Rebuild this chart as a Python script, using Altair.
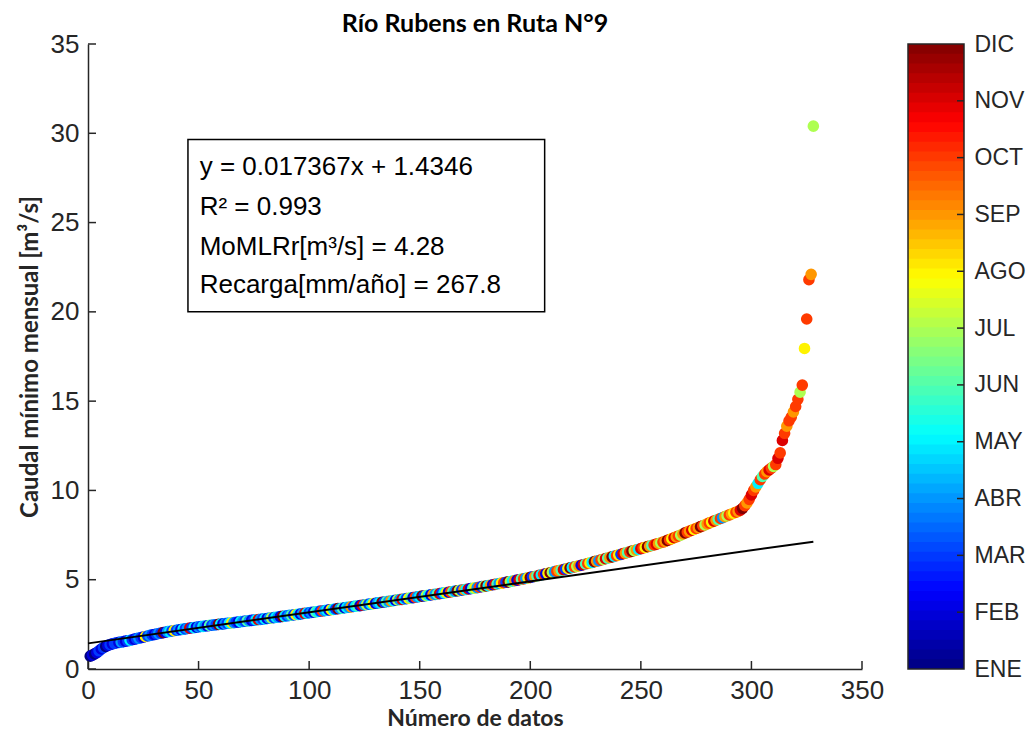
import json
import altair as alt
import pandas as pd

# ---------------- data ----------------
values = [
    0.72, 0.78, 0.85, 0.92, 1.02, 1.12, 1.20, 1.27, 1.32, 1.37,
    1.41, 1.44, 1.47, 1.49, 1.51, 1.53, 1.56, 1.58, 1.61, 1.64,
    1.67, 1.70, 1.73, 1.76, 1.79, 1.82, 1.85, 1.88, 1.91, 1.93,
    1.96, 1.99, 2.01, 2.04, 2.06, 2.09, 2.11, 2.13, 2.15, 2.17,
    2.19, 2.21, 2.23, 2.25, 2.27, 2.29, 2.31, 2.32, 2.34, 2.36,
    2.38, 2.39, 2.41, 2.42, 2.44, 2.45, 2.47, 2.48, 2.50, 2.51,
    2.53, 2.54, 2.56, 2.57, 2.59, 2.60, 2.62, 2.63, 2.65, 2.66,
    2.68, 2.69, 2.71, 2.72, 2.74, 2.75, 2.77, 2.78, 2.80, 2.81,
    2.83, 2.85, 2.86, 2.88, 2.90, 2.91, 2.93, 2.95, 2.96, 2.98,
    3.00, 3.01, 3.03, 3.05, 3.06, 3.08, 3.10, 3.12, 3.13, 3.15,
    3.17, 3.18, 3.20, 3.22, 3.24, 3.25, 3.27, 3.29, 3.31, 3.32,
    3.34, 3.36, 3.38, 3.39, 3.41, 3.43, 3.45, 3.46, 3.48, 3.50,
    3.52, 3.54, 3.55, 3.57, 3.59, 3.61, 3.63, 3.64, 3.66, 3.68,
    3.70, 3.72, 3.74, 3.75, 3.77, 3.79, 3.81, 3.83, 3.85, 3.87,
    3.89, 3.90, 3.92, 3.94, 3.96, 3.98, 4.00, 4.02, 4.04, 4.06,
    4.08, 4.09, 4.11, 4.13, 4.15, 4.17, 4.18, 4.20, 4.22, 4.24,
    4.26, 4.28, 4.30, 4.32, 4.34, 4.36, 4.38, 4.40, 4.42, 4.44,
    4.46, 4.48, 4.50, 4.52, 4.54, 4.56, 4.58, 4.61, 4.63, 4.65,
    4.67, 4.69, 4.72, 4.74, 4.76, 4.79, 4.81, 4.83, 4.86, 4.88,
    4.90, 4.93, 4.95, 4.98, 5.00, 5.03, 5.05, 5.08, 5.10, 5.13,
    5.16, 5.18, 5.21, 5.24, 5.27, 5.30, 5.33, 5.36, 5.39, 5.42,
    5.45, 5.48, 5.51, 5.54, 5.57, 5.60, 5.63, 5.66, 5.69, 5.72,
    5.75, 5.78, 5.81, 5.84, 5.88, 5.91, 5.94, 5.97, 6.01, 6.04,
    6.07, 6.11, 6.14, 6.18, 6.21, 6.25, 6.28, 6.32, 6.35, 6.39,
    6.42, 6.46, 6.49, 6.53, 6.56, 6.60, 6.63, 6.67, 6.70, 6.74,
    6.78, 6.81, 6.85, 6.88, 6.92, 6.95, 6.99, 7.03, 7.07, 7.11,
    7.15, 7.20, 7.25, 7.30, 7.35, 7.40, 7.45, 7.50, 7.56, 7.62,
    7.67, 7.72, 7.77, 7.82, 7.87, 7.92, 7.97, 8.02, 8.07, 8.13,
    8.18, 8.23, 8.28, 8.33, 8.38, 8.43, 8.48, 8.53, 8.58, 8.63,
    8.68, 8.73, 8.78, 8.83, 8.90, 9.00, 9.15, 9.30, 9.50, 9.75,
    10.00, 10.20, 10.40, 10.60, 10.78, 10.92, 11.05, 11.15, 11.25, 11.35,
    11.45, 11.80, 12.10, 12.80, 13.20, 13.60, 13.90, 14.10, 14.40, 14.70, 15.10,
    15.50, 15.90, 17.95, 19.60, 21.80, 22.10, 30.40,
]

months = [
    1, 2, 1, 2, 3, 2, 3, 1, 2, 3,
    2, 3, 3, 2, 4, 3, 2, 3, 5, 3,
    2, 3, 4, 3, 2, 8, 3, 4, 3, 2,
    3, 4, 3, 12, 2, 4, 5, 3, 8, 3,
    4, 2, 5, 3, 4, 11, 3, 5, 2, 4,
    3, 5, 4, 2, 6, 3, 4, 3, 12, 5,
    2, 4, 3, 5, 8, 4, 3, 2, 5, 4,
    3, 6, 4, 2, 3, 5, 11, 4, 3, 5,
    2, 4, 7, 3, 5, 4, 2, 12, 5, 3,
    4, 6, 3, 8, 5, 2, 4, 11, 5, 3,
    4, 2, 6, 5, 3, 10, 4, 5, 2, 8,
    5, 3, 12, 4, 6, 2, 5, 4, 9, 3,
    5, 6, 2, 11, 4, 7, 3, 5, 8, 2,
    4, 5, 12, 3, 6, 4, 9, 5, 2, 7,
    4, 11, 5, 3, 8, 6, 2, 10, 4, 5,
    12, 3, 7, 5, 2, 9, 4, 6, 11, 3,
    5, 8, 2, 10, 6, 4, 12, 7, 3, 9,
    5, 11, 2, 6, 8, 4, 10, 3, 7, 12,
    5, 9, 2, 11, 6, 4, 8, 10, 3, 12,
    7, 5, 9, 2, 11, 6, 10, 4, 8, 12,
    3, 9, 6, 11, 5, 10, 2, 8, 12, 7,
    4, 10, 9, 6, 11, 3, 8, 12, 5, 10,
    7, 9, 2, 11, 6, 10, 8, 5, 12, 9,
    4, 10, 7, 11, 6, 9, 12, 5, 10, 8,
    3, 11, 9, 6, 10, 12, 7, 9, 5, 11,
    10, 8, 12, 9, 6, 10, 11, 9, 7, 10,
    9, 12, 10, 8, 11, 9, 10, 7, 9, 12,
    10, 9, 11, 8, 10, 9, 12, 10, 7, 9,
    10, 8, 11, 9, 6, 10, 4, 9, 7, 10,
    9, 8, 10, 9, 11, 12, 10, 9, 10, 11,
    10, 9, 5, 10, 6, 10, 9, 11, 10, 7,
    10, 11, 10, 11, 10, 9, 10, 10, 9, 10, 10,
    7, 10, 8, 10, 10, 9, 7,
]

month_names = ["ENE", "FEB", "MAR", "ABR", "MAY", "JUN",
               "JUL", "AGO", "SEP", "OCT", "NOV", "DIC"]

slope = 0.017367
intercept = 1.4346
fit_x = [0, 328]

box_lines = ["y = 0.017367x + 1.4346", "R² = 0.993",
             "MoMLRr[m³/s] = 4.28", "Recarga[mm/año] = 267.8"]
box_line_y = [28.1, 25.9, 23.65, 21.5]

x_ticks = [0, 50, 100, 150, 200, 250, 300, 350]
y_ticks = [0, 5, 10, 15, 20, 25, 30, 35]

# ---------------- layout constants ----------------
W, H = 774, 625
CB_W = 56
AX = "#262626"
LABEL_FONT = "Liberation Sans"
TITLE_FONT = "Lato"
TICK_FS = 26
box_x0, box_x1, box_y0, box_y1 = 45.2, 206.5, 20.0, 29.65
text_x = 50.5

jet = alt.Scale(type="linear",
                domain=[1, 2.375, 5.125, 7.875, 10.625, 12],
                range=["#000080", "#0000ff", "#00ffff", "#ffff00", "#ff0000", "#800000"],
                interpolate="rgb")

xscale = alt.Scale(domain=[0, 350], nice=False, zero=False)
yscale = alt.Scale(domain=[0, 35], nice=False, zero=False)
xaxis = alt.Axis(values=x_ticks, ticks=False, grid=False, labelFlush=False,
                 labelOverlap=False, domainColor=AX, domainWidth=1.5,
                 labelPadding=8, titlePadding=4, title="Número de datos",
                 labelFont=LABEL_FONT, labelFontSize=TICK_FS, labelColor=AX,
                 titleFont=TITLE_FONT, titleFontSize=23, titleFontWeight="bold",
                 titleColor=AX)
yaxis = alt.Axis(values=y_ticks, ticks=False, grid=False, labelFlush=False,
                 labelOverlap=False, domainColor=AX, domainWidth=1.5,
                 labelPadding=9, titlePadding=8,
                 title="Caudal mínimo mensual [m³/s]",
                 labelFont=LABEL_FONT, labelFontSize=TICK_FS, labelColor=AX,
                 titleFont=TITLE_FONT, titleFontSize=24, titleFontWeight="bold",
                 titleColor=AX)


def X(field="n"):
    return alt.X(f"{field}:Q", scale=xscale, axis=xaxis)


def Y(field="q"):
    return alt.Y(f"{field}:Q", scale=yscale, axis=yaxis)


df = pd.DataFrame({"n": list(range(1, len(values) + 1)), "q": values, "mes": months})

points = alt.Chart(df).mark_circle(size=135, opacity=1).encode(
    x=X(), y=Y(),
    color=alt.Color("mes:Q", scale=jet, legend=None),
)

fit_df = pd.DataFrame({"n": fit_x, "q": [slope * v + intercept for v in fit_x]})
fit = alt.Chart(fit_df).mark_line(color="black", strokeWidth=2).encode(x=X(), y=Y())

yt_df = pd.DataFrame({"q": y_ticks})
yticks = alt.Chart(yt_df).mark_rule(color=AX, strokeWidth=1.5).encode(
    y=Y(), x=alt.value(0), x2=alt.value(8))
xt_df = pd.DataFrame({"n": x_ticks})
xticks = alt.Chart(xt_df).mark_rule(color=AX, strokeWidth=1.5).encode(
    x=X(), y=alt.value(H), y2=alt.value(H - 8))

box_df = pd.DataFrame({"n": [box_x0], "n2": [box_x1], "q": [box_y0], "q2": [box_y1]})
box = alt.Chart(box_df).mark_rect(fill="white", stroke="black", strokeWidth=1.5).encode(
    x=X(), x2="n2:Q", y=Y(), y2="q2:Q")

txt_df = pd.DataFrame({"n": [text_x] * len(box_lines), "q": box_line_y, "t": box_lines})
txt = alt.Chart(txt_df).mark_text(align="left", baseline="middle", font=LABEL_FONT,
                                  fontSize=26, color="black").encode(
    x=X(), y=Y(), text="t:N")

main = alt.layer(points, fit, yticks, xticks, box, txt).properties(
    width=W, height=H,
    title=alt.Title("Río Rubens en Ruta N°9", font=TITLE_FONT, fontSize=25,
                    fontWeight="bold", color="black", anchor="middle", offset=-6),
)

# ---------------- colour bar ----------------
nb = 64
step = 11 / nb
lo = [1 + step * i for i in range(nb)]
hi = [min(12, 1 + step * (i + 1) + 0.04) for i in range(nb)]
mid = [1 + step * (i + 0.5) for i in range(nb)]
cb_df = pd.DataFrame({"lo": lo, "hi": hi, "mid": mid})
cb_scale = alt.Scale(domain=[1, 12], nice=False, zero=False)
cb_axis = alt.Axis(orient="right", values=list(range(1, 13)), ticks=False, domain=False,
                   grid=False, title=None, labelPadding=10, labelFont=LABEL_FONT,
                   labelFontSize=23, labelColor=AX, labelFlush=False, labelOverlap=False,
                   labelExpr=json.dumps(month_names) + "[round(datum.value) - 1]")

bands = alt.Chart(cb_df).mark_rect().encode(
    y=alt.Y("lo:Q", scale=cb_scale, axis=cb_axis), y2="hi:Q",
    x=alt.value(0), x2=alt.value(CB_W),
    color=alt.Color("mid:Q", scale=jet, legend=None),
)
cbt_df = pd.DataFrame({"lo": list(range(2, 12))})
cb_ticks = alt.Chart(cbt_df).mark_rule(color=AX, strokeWidth=1.5).encode(
    y=alt.Y("lo:Q", scale=cb_scale, axis=cb_axis),
    x=alt.value(CB_W - 7), x2=alt.value(CB_W))
frame_df = pd.DataFrame({"lo": [1], "hi": [12]})
cb_frame = alt.Chart(frame_df).mark_rect(fill=None, stroke=AX, strokeWidth=1.5).encode(
    y=alt.Y("lo:Q", scale=cb_scale, axis=cb_axis), y2="hi:Q",
    x=alt.value(0), x2=alt.value(CB_W))

cbar = alt.layer(bands, cb_ticks, cb_frame).properties(width=CB_W, height=H)

chart = alt.hconcat(main, cbar, spacing=23).resolve_scale(color="independent").properties(
    padding={"left": 10, "top": 4, "right": 0, "bottom": 0},
    background="white",
).configure_view(stroke=None)

chart.save("out.html", embed_options={"renderer": "svg", "actions": False})
